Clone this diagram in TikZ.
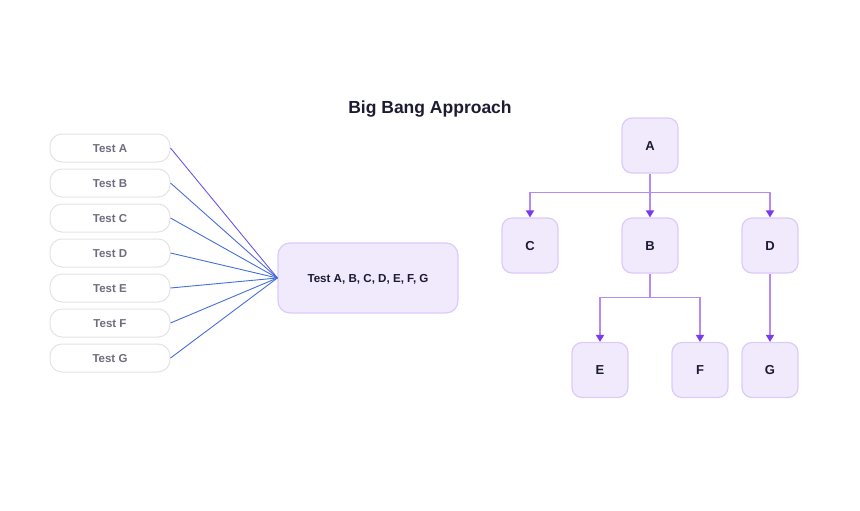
\documentclass[tikz,border=0pt]{standalone}
\usepackage{fontspec}
\setmainfont{Liberation Sans}
\usetikzlibrary{arrows.meta}
\definecolor{titlec}{HTML}{1C1B33}
\definecolor{testtxt}{HTML}{6E6D80}
\definecolor{testborder}{HTML}{E4E4E8}
\definecolor{boxfill}{HTML}{F1EAFD}
\definecolor{boxborder}{HTML}{DCCBF9}
\definecolor{fanline}{HTML}{4370D8}
\definecolor{fantop}{HTML}{6A56E4}
\definecolor{treeline}{HTML}{B38AF6}
\definecolor{treetip}{HTML}{7A3BEF}
\begin{document}
\begin{tikzpicture}[x=1pt,y=-1pt,
  capc/.style={text height=0.95em,text depth=0pt},
  testbox/.style={draw=testborder,line width=1pt,fill=white,rounded corners=12pt,
    minimum width=120pt,minimum height=28pt,inner sep=0pt,capc,
    font=\fontsize{11.5}{13}\selectfont\bfseries,text=testtxt},
  bigbox/.style={draw=boxborder,line width=1.2pt,fill=boxfill,rounded corners=12pt,
    minimum width=180pt,minimum height=70pt,inner sep=0pt,capc,
    font=\fontsize{11.6}{14}\selectfont\bfseries,text=titlec},
  treebox/.style={draw=boxborder,line width=1.2pt,fill=boxfill,rounded corners=10pt,
    minimum width=56pt,minimum height=55pt,inner sep=0pt,capc,
    font=\fontsize{13}{15}\selectfont\bfseries,text=titlec},
  fan/.style={draw=fanline,line width=0.9pt},
  tree/.style={draw=treeline,line width=1.8pt,
    -{Triangle[width=8pt,length=7pt,color=treetip]}},
  treeplain/.style={draw=treeline,line width=1.8pt}
]
\useasboundingbox (0,0) rectangle (860,511);
\node[font=\fontsize{17.5}{20}\selectfont\bfseries,text=titlec,text height=0.95em,text depth=0pt,inner sep=0pt] (title) at (430,108.5) {Big Bang Approach};

\node[testbox] (ta) at (110,148) {Test A};
\node[testbox] (tb) at (110,183) {Test B};
\node[testbox] (tc) at (110,218) {Test C};
\node[testbox] (td) at (110,253) {Test D};
\node[testbox] (te) at (110,288) {Test E};
\node[testbox] (tf) at (110,323) {Test F};
\node[testbox] (tg) at (110,358) {Test G};

\node[bigbox] (all) at (368,278) {Test A, B, C, D, E, F, G};

\draw[fan,draw=fantop] (ta.east) -- (all.west);
\draw[fan,draw=fanline!75!fantop] (tb.east) -- (all.west);
\foreach \t in {tc,td,te,tf,tg} \draw[fan] (\t.east) -- (all.west);

\node[treebox] (A) at (650,145.5) {A};
\node[treebox] (C) at (530,245.5) {C};
\node[treebox] (B) at (650,245.5) {B};
\node[treebox] (D) at (770,245.5) {D};
\node[treebox] (E) at (600,370) {E};
\node[treebox] (F) at (700,370) {F};
\node[treebox] (G) at (770,370) {G};

\coordinate (j1) at (650,192.5);
\coordinate (j2) at (650,297.5);
\draw[tree] (A.south) -- (B.north);
\draw[treeplain] (A.south) -- (j1);
\draw[tree] (j1) -| (C.north);
\draw[tree] (j1) -| (D.north);
\draw[treeplain] (B.south) -- (j2);
\draw[tree] (j2) -| (E.north);
\draw[tree] (j2) -| (F.north);
\draw[tree] (D.south) -- (G.north);
\end{tikzpicture}
\end{document}
